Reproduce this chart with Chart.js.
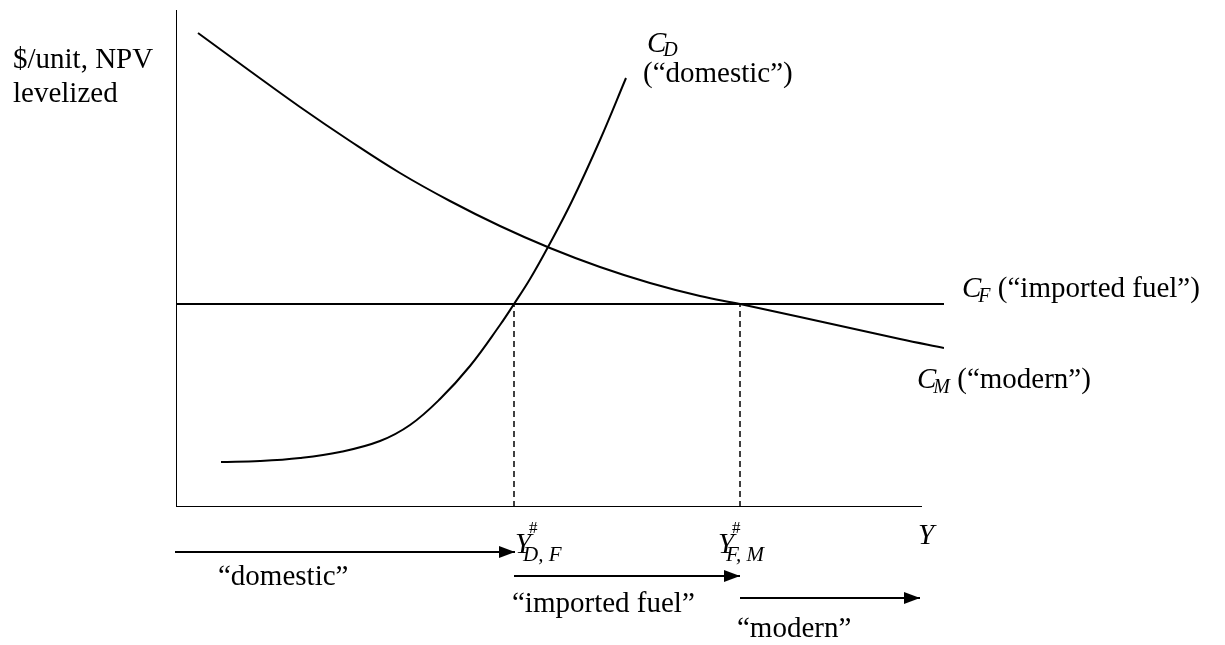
<!DOCTYPE html>
<html>
<head>
<meta charset="utf-8">
<script src="https://cdn.jsdelivr.net/npm/chart.js@4"></script>
<style>
  html, body { margin: 0; padding: 0; background: #fff; }
  canvas { display: block; }
</style>
</head>
<body>
<canvas id="chart" width="1225" height="645"></canvas>
<script>
// output Y along x, levelized cost along y (arbitrary units)
var modernX    = [22, 74, 124, 174, 224, 274, 324, 374, 424, 474, 524, 564, 624, 674, 724, 768];
var modernCost = [474, 436, 400, 366, 334, 306, 281, 259, 240, 224, 211, 203, 190, 179, 168, 159];

var domesticX    = [45, 84, 124, 164, 204, 234, 264, 294, 324, 338, 354, 372, 396, 424, 450];
var domesticCost = [45, 46, 49, 55, 66, 82, 108, 141, 182, 203, 228, 260, 306, 367, 429];

var fuelX    = [0, 768];
var fuelCost = [203, 203];

// crossover outputs Y#_{D,F} and Y#_{F,M}
var thresholds = [338, 564];
var thresholdSubs = ['D, F', 'F, M'];

var axisMaxX = 746;
var axisMaxY = 497;

// regime arrows under the axis
var regimeStart  = [-1, 338, 564];
var regimeEnd    = [339, 564, 744];
var regimeLabels = ['\u201cdomestic\u201d', '\u201cimported fuel\u201d', '\u201cmodern\u201d'];

function pts(xs, ys) {
  return xs.map(function(x, i) { return { x: x, y: ys[i] }; });
}

var black = '#000';
var arrowRows = [-45, -69, -91];

var datasets = [
  { data: [{x: 0, y: 0}, {x: 0, y: axisMaxY}], borderWidth: 2 },
  { data: [{x: 0, y: 0}, {x: axisMaxX, y: 0}], borderWidth: 2 },
  { data: pts(fuelX, fuelCost), borderWidth: 2 },
  { data: pts(modernX, modernCost), borderWidth: 2, tension: 0.4 },
  { data: pts(domesticX, domesticCost), borderWidth: 2, tension: 0.4 }
];
thresholds.forEach(function(t) {
  datasets.push({ data: [{x: t, y: 0}, {x: t, y: fuelCost[0]}], borderWidth: 1.5, borderDash: [6, 4] });
});
regimeStart.forEach(function(s, i) {
  datasets.push({
    data: [{x: s, y: arrowRows[i]}, {x: regimeEnd[i], y: arrowRows[i]}],
    borderWidth: 2, arrow: true, clip: false
  });
});
datasets.forEach(function(d) {
  d.borderColor = black;
  d.showLine = true;
  d.pointRadius = 0;
  d.fill = false;
});

var serif = '"Liberation Serif", "Times New Roman", serif';
function put(ctx, str, x, y, size, italic) {
  ctx.font = (italic ? 'italic ' : '') + size + 'px ' + serif;
  ctx.fillText(str, x, y);
  return x + ctx.measureText(str).width;
}

var arrowHeads = {
  id: 'arrowHeads',
  afterDatasetsDraw: function(chart) {
    var ctx = chart.ctx;
    chart.data.datasets.forEach(function(ds, i) {
      if (!ds.arrow) return;
      var pts = chart.getDatasetMeta(i).data;
      var a = pts[pts.length - 2], b = pts[pts.length - 1];
      var ang = Math.atan2(b.y - a.y, b.x - a.x);
      ctx.save();
      ctx.translate(b.x, b.y);
      ctx.rotate(ang);
      ctx.beginPath();
      ctx.moveTo(0, 0);
      ctx.lineTo(-16, -6);
      ctx.lineTo(-16, 6);
      ctx.closePath();
      ctx.fillStyle = black;
      ctx.fill();
      ctx.restore();
    });
  }
};

var labels = {
  id: 'labels',
  afterDraw: function(chart) {
    var ctx = chart.ctx;
    var xs = chart.scales.x;
    ctx.save();
    ctx.fillStyle = black;
    ctx.textBaseline = 'alphabetic';

    put(ctx, '$/unit, NPV', 13, 68, 29);
    put(ctx, 'levelized', 13, 102, 29);

    var e = put(ctx, 'C', 647, 52, 29, true);
    put(ctx, 'D', e - 3, 56, 20, true);
    put(ctx, '(\u201cdomestic\u201d)', 643, 82, 29);

    e = put(ctx, 'C', 962, 297, 29, true);
    e = put(ctx, 'F', e - 3, 302, 20, true);
    put(ctx, ' (\u201cimported fuel\u201d)', e, 297, 29);

    e = put(ctx, 'C', 917, 388, 29, true);
    e = put(ctx, 'M', e - 3, 393, 20, true);
    put(ctx, ' (\u201cmodern\u201d)', e, 388, 29);

    put(ctx, 'Y', 918, 544, 29, true);

    var shift = [1, -22];
    thresholds.forEach(function(t, i) {
      var px = xs.getPixelForValue(t) + shift[i];
      put(ctx, 'Y', px, 553, 29, true);
      put(ctx, '#', px + 14, 533, 17);
      put(ctx, thresholdSubs[i], px + 8, 561, 21, true);
    });

    var textPos = [[218, 585], [512, 612], [737, 637]];
    regimeLabels.forEach(function(t, i) {
      put(ctx, t, textPos[i][0], textPos[i][1], 29);
    });
    ctx.restore();
  }
};

new Chart(document.getElementById('chart').getContext('2d'), {
  type: 'scatter',
  data: { datasets: datasets },
  options: {
    responsive: false,
    animation: false,
    devicePixelRatio: 1,
    layout: { padding: { left: 176, right: 281, top: 10, bottom: 138 } },
    plugins: { legend: { display: false }, tooltip: { enabled: false } },
    scales: {
      x: { type: 'linear', min: 0, max: 768, display: false },
      y: { type: 'linear', min: 0, max: 497, display: false }
    }
  },
  plugins: [arrowHeads, labels]
});
</script>
</body>
</html>
